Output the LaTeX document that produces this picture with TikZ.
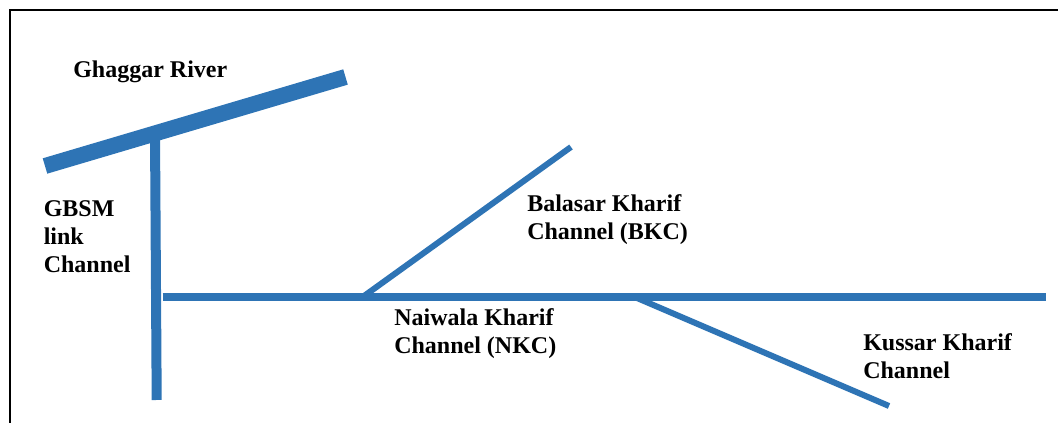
\documentclass[tikz,border=0pt]{standalone}
\usepackage{fontspec}
\setmainfont{Liberation Serif}
\definecolor{canalblue}{HTML}{2E74B5}
\begin{document}
\begin{tikzpicture}[
    x=0.75pt,
    y=-0.75pt,
    label/.style={align=left, anchor=north west, inner sep=0pt, font=\fontsize{18}{21.2}\selectfont\bfseries},
    river/.style={draw=canalblue, line width=12pt},
    link/.style={draw=canalblue, line width=7.5pt},
    canal/.style={draw=canalblue, line width=6pt},
    branch/.style={draw=canalblue, line width=4.5pt},
    frame/.style={draw=black, line width=1.5pt}
]
    \useasboundingbox (0,0) rectangle (1058,423);

    % Frame
    \coordinate (frametop) at (1058,10.5);
    \coordinate (framecorner) at (10,10.5);
    \coordinate (framebottom) at (10,423);
    \draw [frame] (frametop) -- (framecorner) -- (framebottom);

    % River and link
    \coordinate (riverwest) at (45,166);
    \coordinate (rivereast) at (345.5,77);
    \coordinate (linktop) at (155,132);
    \coordinate (linkbottom) at (156.7,400);
    \draw [link] (linktop) -- (linkbottom);
    \draw [river] (riverwest) -- (rivereast);

    % Channels
    \coordinate (nkcwest) at (162.5,297);
    \coordinate (nkceast) at (1046,297);
    \coordinate (bkcstart) at (364,296);
    \coordinate (bkcend) at (571,147);
    \coordinate (kkcstart) at (637,298);
    \coordinate (kkcend) at (889,406);
    \draw [canal] (nkcwest) -- (nkceast);
    \draw [branch] (bkcstart) -- (bkcend);
    \draw [branch] (kkcstart) -- (kkcend);

    % Labels
    \node [label] (ghaggar) at (73,61) {Ghaggar River};
    \node [label] (gbsm) at (43.5,200) {GBSM\\link\\Channel};
    \node [label] (balasar) at (527,194.5) {Balasar Kharif\\Channel (BKC)};
    \node [label] (naiwala) at (394,308.5) {Naiwala Kharif\\Channel (NKC)};
    \node [label] (kussar) at (863,333.5) {Kussar Kharif\\Channel};
\end{tikzpicture}
\end{document}
